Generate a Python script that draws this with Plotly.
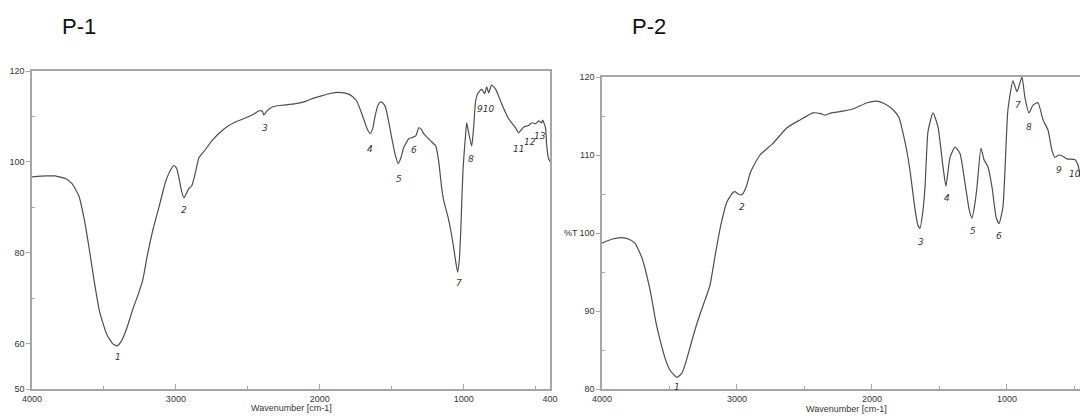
import plotly.graph_objects as go

# ---------------- DATA ----------------
p1_wavenumber = [4000, 3900, 3840, 3764, 3722, 3674, 3639, 3604, 3569, 3530, 3480, 3440, 3410, 3380,
                 3340, 3300, 3260, 3230, 3201, 3160, 3118, 3069, 3030, 3014, 2995, 2979, 2960, 2944,
                 2925, 2910, 2889, 2865, 2840, 2800, 2750, 2700, 2632, 2570, 2514, 2460, 2424, 2400,
                 2389, 2370, 2340, 2306, 2250, 2167, 2100, 2056, 2000, 1937, 1880, 1833, 1800, 1778,
                 1745, 1715, 1690, 1674, 1650, 1630, 1618, 1595, 1576, 1555, 1542, 1520, 1500, 1475,
                 1455, 1435, 1417, 1382, 1361, 1333, 1312, 1295, 1278, 1250, 1229, 1194, 1174, 1153,
                 1139, 1110, 1090, 1069, 1055, 1042, 1030, 1020, 1005, 986, 979, 965, 944, 931, 917,
                 903, 875, 854, 840, 826, 806, 778, 736, 688, 639, 618, 583, 549, 528, 500, 479, 458,
                 451, 431, 424, 412, 400]
p1_transmittance = [96.7, 96.9, 96.9, 96.3, 95.2, 92.5, 87.7, 81.2, 74.0, 67.0, 62.0, 60.0, 59.5, 60.5,
                    63.5, 67.5, 71.0, 74.0, 79.0, 85.0, 90.0, 95.9, 98.6, 99.2, 98.6, 96.5, 93.5, 92.1,
                    93.2, 94.1, 94.8, 97.5, 100.9, 102.5, 104.6, 106.3, 108.0, 109.0, 109.7, 110.5, 111.2, 111.2,
                    110.3, 111.1, 111.9, 112.3, 112.5, 112.8, 113.3, 113.9, 114.4, 115.0, 115.3, 115.2, 114.9, 114.5,
                    113.5, 111.2, 109.0, 107.5, 106.2, 107.6, 109.7, 112.5, 113.2, 112.7, 111.9, 108.7, 105.3, 101.5,
                    99.6, 101.0, 103.1, 105.1, 105.3, 105.7, 107.5, 107.2, 106.2, 105.3, 104.6, 103.5, 100.2, 94.3,
                    91.5, 88.0, 85.0, 81.0, 78.0, 75.7, 78.5, 85.0, 98.0, 106.2, 108.6, 106.4, 103.5, 107.5, 113.4,
                    115.0, 116.0, 115.0, 116.5, 115.2, 116.9, 116.0, 112.8, 109.5, 107.5, 106.4, 107.7, 108.0, 108.6,
                    108.4, 109.0, 108.6, 109.2, 107.5, 104.0, 101.0, 100.0]

p1_label_text = ["1", "2", "3", "4", "5", "6", "7", "8", "910", "11", "12", "13"]
p1_label_x = [3403, 2944, 2382, 1653, 1451, 1347, 1035, 951, 847, 618, 542, 472]
p1_label_y = [57.0, 89.5, 107.5, 102.9, 96.3, 102.7, 73.3, 100.7, 111.7, 102.9, 104.4, 105.7]

p2_wavenumber = [4000, 3930, 3852, 3800, 3756, 3704, 3644, 3600, 3570, 3530, 3496, 3444, 3410, 3385,
                 3350, 3311, 3270, 3237, 3200, 3163, 3120, 3074, 3030, 3015, 2990, 2963, 2930, 2900,
                 2830, 2733, 2630, 2533, 2437, 2380, 2348, 2300, 2259, 2141, 2037, 1963, 1910, 1844,
                 1800, 1770, 1745, 1719, 1681, 1660, 1644, 1625, 1607, 1585, 1548, 1511, 1474, 1452,
                 1422, 1385, 1348, 1311, 1280, 1259, 1240, 1222, 1193, 1170, 1141, 1111, 1080, 1059,
                 1030, 993, 956, 926, 889, 867, 837, 807, 770, 733, 696, 667, 644, 615, 593, 556,
                 496, 470, 459]
p2_transmittance = [98.7, 99.2, 99.4, 99.2, 98.7, 96.8, 92.7, 88.5, 86.3, 83.8, 82.4, 81.5, 82.0, 83.1,
                    85.2, 87.6, 89.8, 91.4, 93.3, 97.0, 101.0, 104.0, 105.2, 105.3, 105.0, 104.9, 106.0, 107.8,
                    110.0, 111.5, 113.5, 114.5, 115.4, 115.3, 115.1, 115.4, 115.5, 115.9, 116.7, 116.9, 116.6, 115.8,
                    114.8, 112.8, 110.8, 108.1, 103.0, 101.0, 100.6, 102.5, 105.9, 113.0, 115.4, 113.6, 108.5, 106.0,
                    109.7, 111.0, 110.2, 106.4, 103.0, 101.9, 103.5, 105.9, 110.9, 109.4, 108.5, 105.9, 102.0, 101.2,
                    103.3, 115.8, 119.5, 118.1, 120.0, 117.4, 115.4, 116.4, 116.7, 114.5, 113.2, 110.6, 109.7, 110.0,
                    109.9, 109.5, 109.4, 108.5, 107.2]

p2_label_text = ["1", "2", "3", "4", "5", "6", "7", "8", "9", "10"]
p2_label_x = [3444, 2963, 1637, 1444, 1252, 1059, 919, 837, 615, 496]
p2_label_y = [80.3, 103.3, 98.8, 104.5, 100.3, 99.6, 116.4, 113.6, 108.1, 107.6]

x_ticks = [4000, 3000, 2000, 1000, 400]
x_minor = [3500, 2500, 1500, 500]
p1_y_ticks = [120, 100, 80, 60, 50]
p1_y_minor = [110, 90, 70]
p2_y_ticks = [120, 110, 100, 90, 80]
p2_y_minor = [115, 105, 95, 85]

panel_titles = ["P-1", "P-2"]
x_title = "Wavenumber [cm-1]"
y2_title = "%T"

# ---------------- FIGURE ----------------
W, H = 1080, 416
curve_color = "#4d4d4d"
axis_color = "#a6a6a6"
tick_font = dict(family="Liberation Sans, Arial, sans-serif", size=9, color="#333333")

fig = go.Figure()
fig.add_trace(go.Scatter(x=p1_wavenumber, y=p1_transmittance, mode="lines",
                         line=dict(color=curve_color, width=1.2, shape="spline", smoothing=0.5),
                         xaxis="x", yaxis="y", showlegend=False, hoverinfo="skip"))
fig.add_trace(go.Scatter(x=p2_wavenumber, y=p2_transmittance, mode="lines",
                         line=dict(color=curve_color, width=1.2, shape="spline", smoothing=0.5),
                         xaxis="x2", yaxis="y2", showlegend=False, hoverinfo="skip", cliponaxis=False))

def px_x(p):
    return p / W

def px_y(p):
    return 1 - p / H

common_x = dict(tickvals=x_ticks, ticktext=[str(v) for v in x_ticks], ticks="inside", ticklen=5,
                tickcolor=axis_color, showline=True, linecolor=axis_color, linewidth=1.5,
                showgrid=False, zeroline=False, tickfont=tick_font, mirror=True, automargin=False,
                minor=dict(tickvals=x_minor, ticks="inside", ticklen=3, tickcolor=axis_color))

fig.update_layout(
    template="none",
    width=W, height=H, margin=dict(l=0, r=0, t=0, b=0, pad=0), autosize=False,
    paper_bgcolor="white", plot_bgcolor="white",
    xaxis=dict(domain=[px_x(32), px_x(550)], range=[4000, 400], anchor="y", **common_x),
    yaxis=dict(domain=[px_y(389), px_y(71)], range=[50, 120], anchor="x", automargin=False,
               tickvals=p1_y_ticks, ticks="outside", ticklen=4, tickcolor=axis_color,
               showline=True, linecolor=axis_color, linewidth=1.5, mirror=True,
               showgrid=False, zeroline=False, tickfont=tick_font,
               minor=dict(tickvals=p1_y_minor, ticks="inside", ticklen=3, tickcolor=axis_color)),
    xaxis2=dict(domain=[px_x(602), 1.0], range=[4000, 459], anchor="y2", **common_x),
    yaxis2=dict(domain=[px_y(389), px_y(77)], range=[80, 120], anchor="x2", automargin=False,
                tickvals=p2_y_ticks, ticks="outside", ticklen=4, tickcolor=axis_color,
                showline=True, linecolor=axis_color, linewidth=1.5, mirror=False,
                showgrid=False, zeroline=False, tickfont=tick_font,
                minor=dict(tickvals=p2_y_minor, ticks="inside", ticklen=3, tickcolor=axis_color)),
)

label_font = dict(family="DejaVu Sans, sans-serif", size=9, color="#333333", style="italic")
for t, x, y in zip(p1_label_text, p1_label_x, p1_label_y):
    fig.add_annotation(x=x, y=y, xref="x", yref="y", text=t, showarrow=False, font=label_font)
for t, x, y in zip(p2_label_text, p2_label_x, p2_label_y):
    fig.add_annotation(x=x, y=y, xref="x2", yref="y2", text=t, showarrow=False, font=label_font)

title_font = dict(family="Liberation Sans, Arial, sans-serif", size=22, color="#111111")
fig.add_annotation(x=px_x(60), y=px_y(26), xref="paper", yref="paper", text=panel_titles[0],
                   showarrow=False, xanchor="left", yanchor="middle", font=title_font)
fig.add_annotation(x=px_x(630), y=px_y(26), xref="paper", yref="paper", text=panel_titles[1],
                   showarrow=False, xanchor="left", yanchor="middle", font=title_font)

xt_font = dict(family="Liberation Sans, Arial, sans-serif", size=9, color="#333333")
fig.add_annotation(x=px_x(291), y=px_y(408), xref="paper", yref="paper", text=x_title,
                   showarrow=False, xanchor="center", yanchor="middle", font=xt_font)
fig.add_annotation(x=px_x(846), y=px_y(409), xref="paper", yref="paper", text=x_title,
                   showarrow=False, xanchor="center", yanchor="middle", font=xt_font)
fig.add_annotation(x=0, y=100, xref="x2 domain", yref="y2", text=y2_title, xshift=-22,
                   showarrow=False, xanchor="right", yanchor="middle", font=xt_font)

fig.write_html("out.html", config={"displayModeBar": False},
               post_script="document.body.style.margin='0';document.body.style.overflow='hidden';")
